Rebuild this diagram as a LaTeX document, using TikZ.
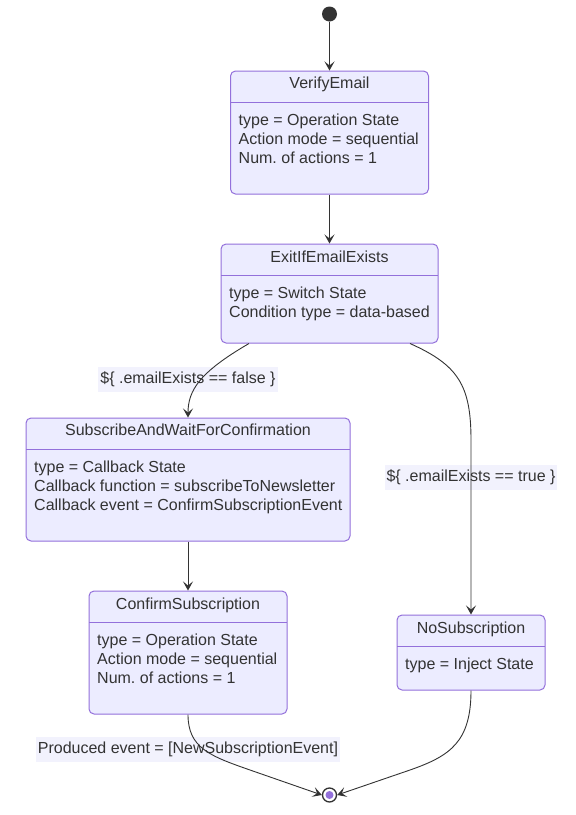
\documentclass[tikz,border=0pt]{standalone}
\usepackage{fontspec}
\setmainfont{Liberation Sans}
\usetikzlibrary{arrows.meta}
\definecolor{boxfill}{HTML}{ECECFF}
\definecolor{boxline}{HTML}{9370DB}
\definecolor{ink}{HTML}{333333}
\definecolor{lblbg}{HTML}{F2F2FD}
\frenchspacing
\begin{document}
\begin{tikzpicture}[x=1pt,y=-1pt,
  box/.style={draw=boxline, fill=boxfill, rounded corners=5pt, line width=1pt, inner sep=0pt},
  sep/.style={draw=boxline, line width=1pt},
  txt/.style={text=ink, inner sep=0pt, font=\fontsize{16}{19}\selectfont},
  ttl/.style={txt, anchor=base},
  body/.style={txt, anchor=base west},
  lbl/.style={fill=lblbg, text=ink, inner xsep=2pt, text height=11.5pt, text depth=3.5pt, inner ysep=5pt, font=\fontsize{16}{19}\selectfont},
  edge/.style={draw=ink, line width=0.9pt, -{Stealth[length=9pt,width=10pt,inset=4pt,line width=1.2pt]}}]
\useasboundingbox (0,0) rectangle (576,815);
\fill[white] (0,0) rectangle (576,815);

% start and end markers
\node[circle, fill=ink, minimum size=15pt, inner sep=0pt] (start) at (329.5,14) {};
\node[circle, draw=ink, fill=white, line width=1.3pt, minimum size=14pt, inner sep=0pt] (end) at (329.5,795) {};
\node[circle, fill=boxline, minimum size=8pt, inner sep=0pt] (endin) at (329.5,795) {};

% VerifyEmail
\node[box, minimum width=198pt, minimum height=123pt] (verify) at (329.5,132.5) {};
\draw[sep] (230.5,102) -- (428.5,102);
\node[ttl] (verifyT) at (329.5,88.5) {VerifyEmail};
\node[body] (verifyA) at (238.5,125.5) {type = Operation State};
\node[body] (verifyB) at (238.5,144.5) {Action mode = sequential};
\node[body] (verifyC) at (238.5,163.5) {Num. of actions = 1};

% ExitIfEmailExists
\node[box, minimum width=217pt, minimum height=99pt] (exit) at (329.5,293.5) {};
\draw[sep] (221,275) -- (438,275);
\node[ttl] (exitT) at (329.5,262.5) {ExitIfEmailExists};
\node[body] (exitA) at (229,298.5) {type = Switch State};
\node[body] (exitB) at (229,317.5) {Condition type = data-based};

% SubscribeAndWaitForConfirmation
\node[box, minimum width=324pt, minimum height=123pt] (sub) at (188,479.5) {};
\draw[sep] (26,449) -- (350,449);
\node[ttl] (subT) at (188,435.5) {SubscribeAndWaitForConfirmation};
\node[body] (subA) at (34,472.5) {type = Callback State};
\node[body] (subB) at (34,491.5) {Callback function = subscribeToNewsletter};
\node[body] (subC) at (34,510.5) {Callback event = ConfirmSubscriptionEvent};

% ConfirmSubscription
\node[box, minimum width=198pt, minimum height=123pt] (confirm) at (188,652.5) {};
\draw[sep] (89,622) -- (287,622);
\node[ttl] (confirmT) at (188,609.5) {ConfirmSubscription};
\node[body] (confirmA) at (97,645.5) {type = Operation State};
\node[body] (confirmB) at (97,664.5) {Action mode = sequential};
\node[body] (confirmC) at (97,683.5) {Num. of actions = 1};

% NoSubscription
\node[box, minimum width=148pt, minimum height=75pt] (nosub) at (471,652.5) {};
\draw[sep] (397,646) -- (545,646);
\node[ttl] (nosubT) at (471,633.5) {NoSubscription};
\node[body] (nosubA) at (405,669.5) {type = Inject State};

% transition labels
\node[lbl] (lfalse) at (188,379.5) {\$\{ .emailExists == false \}};
\node[lbl] (ltrue) at (471,477.5) {\$\{ .emailExists == true \}};
\node[lbl] (lprod) at (188,749.5) {Produced event = [NewSubscriptionEvent]};

% transitions
\draw[edge] (start) -- (verify.north);
\draw[edge] (verify.south) -- (exit.north);
\draw[edge] ([xshift=-80.5pt]exit.south) .. controls (200,372) and (188,390) .. (sub.north);
\draw[edge] ([xshift=80.5pt]exit.south) .. controls (458,365) and (471,385) .. (471,440) -- (nosub.north);
\draw[edge] (sub.south) -- (confirm.north);
\draw[edge] (confirm.south) .. controls (188,748) and (210,756) .. (250,770) -- (end.west);
\draw[edge] (nosub.south) .. controls (471,742) and (450,756) .. (410,770) -- (end.east);
\end{tikzpicture}
\end{document}
